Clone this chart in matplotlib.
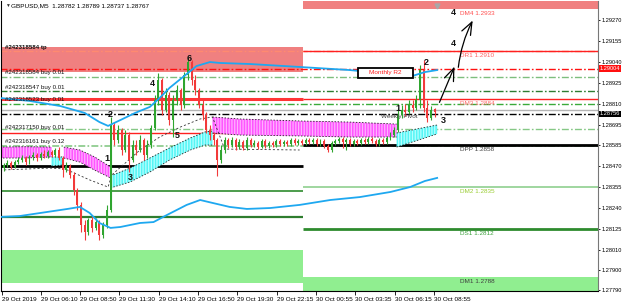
import matplotlib
matplotlib.use("Agg")
import matplotlib.pyplot as plt
import matplotlib.transforms as mtransforms
from matplotlib.patches import Rectangle
import numpy as np

plt.rcParams["font.family"] = ["Liberation Sans", "DejaVu Sans"]
plt.rcParams["hatch.linewidth"] = 0.9
plt.rcParams["lines.scale_dashes"] = False

BASE = 1.28
PT = 1e-5


def P(v):
    return BASE + np.asarray(v, float) * PT

# ---------------- data (candles in points above 1.28000, one candle per 3 bars)
c_open = [476,459,476,487,465,492,503,514,492,520,
          531,514,536,525,547,531,558,514,448,470,
          421,339,257,147,109,174,131,163,92,147,
          229,695,613,668,558,640,503,585,558,613,
          531,585,679,832,942,777,859,722,832,887,
          805,969,1040,942,887,805,750,668,640,613,
          503,558,613,585,613,574,602,569,613,585,
          596,574,607,580,596,585,607,591,602,591,
          613,596,607,596,613,602,613,591,607,580,
          558,596,607,618,602,613,591,607,596,613,
          602,618,607,591,613,602,624,640,668,750,
          777,766,805,788,832,996,788,733,782]
c_close = [459,476,487,465,492,503,514,492,520,531,
           514,536,525,547,531,558,514,448,470,421,
           339,257,147,109,174,131,163,92,147,229,
           695,613,668,558,640,503,585,558,613,531,
           585,679,832,942,777,859,722,832,887,805,
           969,1040,942,887,805,750,668,640,613,503,
           558,613,585,613,574,602,569,613,585,596,
           574,607,580,596,585,607,591,602,591,613,
           596,607,596,613,602,613,591,607,580,558,
           596,607,618,602,613,591,607,596,613,602,
           618,607,591,613,602,624,640,668,750,777,
           766,805,788,832,996,788,733,777,767]
c_high = [492,487,503,498,503,520,531,525,531,547,
          542,547,558,558,558,569,574,525,492,481,
          437,350,273,174,185,202,185,174,163,257,
          739,711,695,679,668,657,613,613,640,624,
          613,695,859,980,953,898,876,859,914,898,
          985,1068,1051,969,898,832,766,695,657,624,
          585,629,624,629,624,618,613,629,624,613,
          607,618,618,607,607,618,618,613,613,624,
          624,618,618,624,624,624,624,618,618,591,
          607,618,629,629,624,624,618,618,624,624,
          629,629,618,624,624,635,657,684,788,805,
          810,832,832,859,1024,1051,832,799,789]
c_low = [448,443,465,454,459,481,492,476,481,503,
         498,503,514,514,520,520,503,410,437,405,
         311,229,109,65,92,109,120,65,76,131,
         218,585,596,531,547,437,492,531,547,503,
         514,569,668,805,750,766,695,629,805,777,
         788,942,914,859,788,722,651,613,585,416,
         487,542,569,574,558,563,558,558,574,574,
         563,569,569,569,574,574,580,580,580,580,
         585,585,585,585,591,591,580,580,569,547,
         547,585,596,569,558,580,580,585,585,591,
         591,596,580,580,591,591,613,629,657,733,
         744,755,766,777,788,766,711,722,737]
candle_step = 3

# moving-average style bands (bar index, points)
ma_up_x = [0,24,49,69,81,88,98,110,122,130,138,149,160,171,179,204,244,285,309,326,336,346,356]
ma_up = [843,827,799,761,711,690,722,761,794,843,898,958,1018,1040,1035,1029,1013,996,980,958,964,985,996]
ma_lo_x = [0,16,33,55,65,73,81,90,98,114,125,136,152,163,173,187,201,220,244,269,293,318,334,346,356]
ma_lo = [191,196,213,235,246,213,158,131,136,158,163,202,257,284,268,246,235,240,257,284,300,328,355,388,405]

# ribbon (magenta = bearish, cyan = bullish), NaN separates pieces
nan = np.nan
mag_x = [0,20,42,nan,52,65,77,90,nan,173,195,244,285,323]
mag_top = [574,576,574,nan,574,558,520,465,nan,739,728,717,711,700]
mag_bot = [514,514,520,nan,514,492,448,405,nan,651,640,635,629,629]
cya_x = [42,52,nan,90,106,122,138,155,167,173,nan,323,356]
cya_top = [520,520,nan,416,459,514,569,624,657,662,nan,651,695]
cya_bot = [470,476,nan,350,383,437,503,558,585,585,nan,574,646]
dot_x = [0,41,53,73,88,91,114,130,147,163,173,183,244]
dot_y = [448,459,454,394,355,421,558,629,684,728,739,563,558]

# levels
day_split = 247
dm4, dr1, dm3, dpp, dm2, ds1, dm1 = 1.29331, 1.29100, 1.28837, 1.28585, 1.28355, 1.28125, 1.27862
pivot_labels = ["DM4 1.2933", "DR1 1.2910", "DM3 1.2884", "DPP 1.2858", "DM2 1.2835", "DS1 1.2812", "DM1 1.2788"]
pivot_colors = ["#FF5050", "#FF6060", "#FF6A6A", "#404040", "#9ACD32", "#3CA03C", "#404040"]
prev_zone_hi = (1.28985, 1.29122)
prev_zone_lo = (1.27829, 1.28010)
order_labels = ["#242318584 tp", "#242318584 buy 0.01", "#242318547 buy 0.01",
                "#242318523 buy 0.01", "#242317150 buy 0.01", "#242316161 buy 0.12"]
order_label_y = [1.29117, 1.28980, 1.28898, 1.28832, 1.28684, 1.28602]

time_labels = ["29 Oct 2019", "29 Oct 06:10", "29 Oct 08:50", "29 Oct 11:30", "29 Oct 14:10",
               "29 Oct 16:50", "29 Oct 19:30", "29 Oct 22:15", "30 Oct 00:55", "30 Oct 03:35",
               "30 Oct 06:15", "30 Oct 08:55"]
time_bars = [1.6, 33.4, 65.1, 96.9, 129.5, 161.2, 193.0, 225.6, 257.3, 289.1, 321.7, 353.4]
price_ticks = [1.29270, 1.29155, 1.29040, 1.28925, 1.28810, 1.28695, 1.28585, 1.28470,
               1.28355, 1.28240, 1.28125, 1.28010, 1.27900, 1.27790]

num_text = ["1", "2", "3", "4", "5", "6", "1", "2", "3", "4", "4"]
num_x = [87, 90, 106, 124, 144, 154, 324, 347, 361, 369, 369]
num_y = [1.28514, 1.28755, 1.28405, 1.28925, 1.28640, 1.29057, 1.28788, 1.29040, 1.28722, 1.29144, 1.29309]

# ---------------- figure
fig = plt.figure(figsize=(6.25, 3.05), dpi=100)
ax = fig.add_axes([1 / 625, 14.5 / 305, 597 / 625, 289.5 / 305])
XMAX = 487.0
ax.set_xlim(0.8, XMAX)
ax.set_ylim(1.277880, 1.293745)

FS = 4.6
TFS = 4.1
DD = (0, (5, 1.6, 1.2, 1.6))

# zones
ax.add_patch(Rectangle((0, prev_zone_hi[0]), day_split, prev_zone_hi[1] - prev_zone_hi[0],
                       fc="#F08080", ec="none", zorder=0.5))
ax.add_patch(Rectangle((day_split, dm4), XMAX - day_split, 1.2938 - dm4,
                       fc="#F08080", ec="none", zorder=0.5))
ax.add_patch(Rectangle((0, prev_zone_lo[0]), day_split, prev_zone_lo[1] - prev_zone_lo[0],
                       fc="#90EE90", ec="none", zorder=0.5))
ax.add_patch(Rectangle((day_split, 1.2775), XMAX - day_split, dm1 - 1.2775,
                       fc="#90EE90", ec="none", zorder=0.5))

# horizontal lines
def hl(y, x0, x1, color, lw=1.0, ls="-", z=1):
    ax.hlines(y, x0, x1, colors=color, linewidth=lw, linestyles=ls, zorder=z)

hl(dr1, 0, XMAX, "#FF8A70", 1.0, DD)
hl(dr1, day_split, XMAX, "#FF2020", 1.0)
hl(1.29004, 0, XMAX, "#FF1010", 1.0, DD)
hl(1.28958, 0, XMAX, "#7DBE7D", 1.0, DD)
hl(1.28881, 0, XMAX, "#2E7D32", 1.0, DD)
hl(1.28810, 0, XMAX, "#3AAA3A", 1.0, DD)
hl(dm3, 0, day_split, "#FF3535", 2.2)
hl(dm3, day_split, XMAX, "#FF2020", 1.0)
hl(1.28775, 0, XMAX, "#B4B4B4", 1.0)
hl(1.28756, 0, XMAX, "#000000", 1.0, DD)
hl(1.28673, 0, XMAX, "#86C886", 1.0, DD)
hl(1.28651, 0, day_split, "#FF2020", 1.0)
hl(1.28580, 0, XMAX, "#86C886", 1.2, DD)
hl(1.28470, 0, day_split, "#000000", 2.0)
hl(dpp, day_split, XMAX, "#000000", 2.0)
hl(1.28333, 0, day_split, "#2E8B2E", 1.2)
hl(1.28191, 0, day_split, "#2E7D2E", 1.6)
hl(dm2, day_split, XMAX, "#8FCF8F", 1.2)
hl(ds1, day_split, XMAX, "#2E8B2E", 2.0)

# ribbon
ax.fill_between(mag_x, P(mag_bot), P(mag_top), facecolor="#FF55FF", edgecolor="#FFB0FF",
                hatch="|" * 6, linewidth=0, zorder=1.5)
ax.fill_between(cya_x, P(cya_bot), P(cya_top), facecolor="#55F5F5", edgecolor="#B5FFFF",
                hatch="|" * 6, linewidth=0, zorder=1.5)
for xs, ys in ((mag_x, mag_top), (mag_x, mag_bot), (cya_x, cya_top), (cya_x, cya_bot)):
    ax.plot(xs, P(ys), color="#222222", lw=0.6, ls=(0, (1, 1.2)), zorder=1.6)
ax.plot(dot_x, P(dot_y), color="#333333", lw=0.6, ls=(0, (1.5, 1.5)), zorder=1.6)

# candles
o = P(c_open); h = P(c_high); l = P(c_low); c = P(c_close)
xb = np.arange(len(c_close)) * candle_step
col = np.where(c >= o, "#2FA52F", "#F23A3A")
ax.vlines(xb, l, h, colors=col, linewidth=0.8, zorder=2)
body = np.where(np.abs(c - o) < 1e-7, 0.5e-5, c - o)
ax.bar(xb, body, bottom=o, width=1.6, color=col, linewidth=0, zorder=2.1)

# blue bands
ax.plot(ma_up_x, P(ma_up), color="#1EA8F0", lw=1.3, zorder=3, solid_joinstyle="round")
ax.plot(ma_lo_x, P(ma_lo), color="#1EA8F0", lw=1.3, zorder=3, solid_joinstyle="round")

# Monthly R2 box
ax.add_patch(Rectangle((291.5, 1.28953), 44.8, 0.00054, fc="white", ec="black", lw=1.3, zorder=3.5))
ax.text(314, 1.28980, "Monthly R2", color="#FF2020", fontsize=FS, ha="center", va="center", zorder=3.6)
ax.text(310, 1.28739, "Weekly Pivot", color="#404040", fontsize=FS, ha="left", va="center", zorder=2.5)

# pivot labels
for lab, yv, cl in zip(pivot_labels, [dm4, dr1, dm3, dpp, dm2, ds1, dm1], pivot_colors):
    ax.annotate(lab, (375, yv), xytext=(0, -1.6), textcoords="offset points",
                fontsize=FS, color=cl, ha="left", va="top", zorder=3.6)

# order labels
for lab, yv in zip(order_labels, order_label_y):
    ax.text(4, yv, lab, fontsize=4.4, color="#111111", ha="left", va="center", zorder=3.6,
            fontweight="bold" if lab.endswith("tp") else "normal")

# wave numbers
for t, xv, yv in zip(num_text, num_x, num_y):
    ax.text(xv, yv, t, fontsize=6.5, fontweight="bold", color="#111111", ha="center", va="center", zorder=4)

# arrows
ax.annotate("", xy=(371, 1.29029), xytext=(357, 1.28805),
            arrowprops=dict(arrowstyle="->,head_length=0.9,head_width=0.35", color="black", lw=0.9),
            zorder=4)
ax.annotate("", xy=(386, 1.29281), xytext=(373, 1.28996),
            arrowprops=dict(arrowstyle="->,head_length=0.9,head_width=0.35", color="black", lw=0.9,
                            connectionstyle="arc3,rad=-0.1"),
            zorder=4)

# chart-shift marker
ax.plot([356], [1.29347], marker="v", color="#A8A8A8", ms=3.5, zorder=4, clip_on=False)

# axes styling
ax.spines["top"].set_visible(False)
for s in ("left", "right", "bottom"):
    ax.spines[s].set_color("#000000")
    ax.spines[s].set_linewidth(0.8)
ax.spines["right"].set_color("#777777")

ax.yaxis.tick_right()
ax.set_yticks(price_ticks)
ax.set_yticklabels([f"{v:.5f}" for v in price_ticks], fontsize=TFS)
ax.tick_params(axis="y", length=1.5, width=0.6, pad=0.8, colors="#000000")
ax.set_xticks(time_bars)
ax.set_xticklabels(time_labels, fontsize=FS)
for lb in ax.get_xticklabels():
    lb.set_ha("left")
ax.tick_params(axis="x", length=3, width=0.6, pad=1.5)

# price tags
tr = mtransforms.blended_transform_factory(ax.transAxes, ax.transData)
ax.text(1.0035, 1.29004, "1.29004", transform=tr, fontsize=TFS, color="white", va="center", ha="left",
        bbox=dict(fc="#FF1010", ec="none", pad=0.6), zorder=5, clip_on=False)
ax.text(1.0035, 1.28756, "1.28756", transform=tr, fontsize=TFS, color="white", va="center", ha="left",
        bbox=dict(fc="#000000", ec="none", pad=0.6), zorder=5, clip_on=False)

# title
fig.text(5 / 625, 1 - 5.5 / 305, "\u25BC", fontsize=3.5, color="#333333", va="center", ha="left")
fig.text(11 / 625, 1 - 5.5 / 305, "GBPUSD,M5  1.28782 1.28789 1.28737 1.28767", fontsize=FS,
         color="#000000", va="center", ha="left")

fig.savefig("out.png", dpi=100, facecolor="white")
